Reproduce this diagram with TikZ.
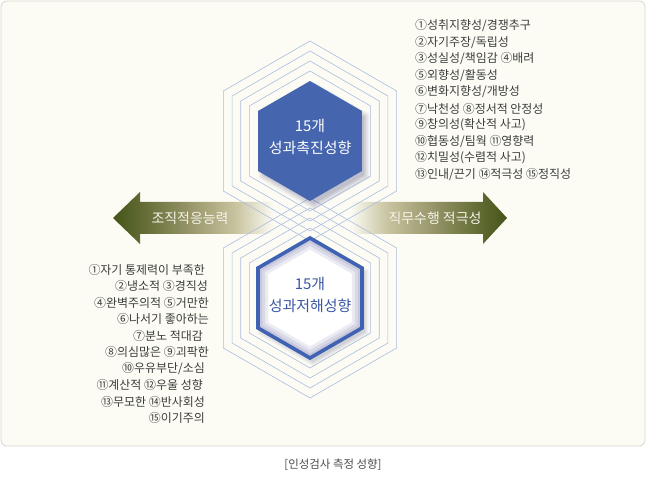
\documentclass[tikz,border=0pt]{standalone}
\usepackage{fontspec}
\setmainfont{Noto Sans CJK KR}
\definecolor{bgc}{RGB}{252,252,245}
\definecolor{framegray}{RGB}{215,215,208}
\definecolor{hexline}{RGB}{172,188,224}
\definecolor{hexblue}{RGB}{69,101,174}
\definecolor{lowblue}{RGB}{64,98,178}
\definecolor{lowtext}{RGB}{58,86,164}
\definecolor{textgray}{RGB}{60,60,60}
\definecolor{ca}{RGB}{68,84,24}
\definecolor{cb}{RGB}{96,106,50}
\definecolor{cc}{RGB}{152,150,106}
\definecolor{cd}{RGB}{202,197,162}
\definecolor{arrtext}{RGB}{245,244,232}
\pgfdeclarehorizontalshading{larr}{100bp}{color(0bp)=(ca); color(25bp)=(ca); color(33.5bp)=(cb); color(49bp)=(cc); color(63.5bp)=(cd); color(75bp)=(bgc); color(100bp)=(bgc)}
\pgfdeclarehorizontalshading{rarr}{100bp}{color(0bp)=(bgc); color(25bp)=(bgc); color(36.5bp)=(cd); color(51bp)=(cc); color(66.5bp)=(cb); color(75bp)=(ca); color(100bp)=(ca)}
\tikzset{
  hexo/.style={draw=hexline, line width=0.6bp},
  listtext/.style={font=\fontsize{12}{14}\selectfont, text=textgray, inner sep=0pt},
  captext/.style={font=\fontsize{11.5}{14}\selectfont, text=black!70, inner sep=0pt},
  arrlabel/.style={font=\fontsize{14}{16}\selectfont, text=arrtext, inner sep=0pt},
  hexlabel/.style={font=\fontsize{15}{22}\selectfont, align=center, inner sep=0pt},
}
\newcommand{\hexat}[1]{(90:#1) -- (30:#1) -- (-30:#1) -- (-90:#1) -- (-150:#1) -- (150:#1) -- cycle}
\begin{document}
\begin{tikzpicture}[x=1bp,y=-1bp]
\useasboundingbox (0,0) rectangle (646,479);
\fill[white] (0,0) rectangle (646,479);
\draw[draw=framegray, fill=bgc, line width=0.8bp, rounded corners=6bp] (1,1) rectangle (645,446);

% arrows
\shade[shading=larr] (113,218) -- (140,192) -- (140,202) -- (274,202) -- (274,234) -- (140,234) -- (140,244) -- cycle;
\shade[shading=rarr] (507,218) -- (483,192) -- (483,202) -- (350,202) -- (350,234) -- (483,234) -- (483,244) -- cycle;

% outline hexagons
\foreach \r in {70,80,90,100}{
  \draw[hexo, shift={(310,141)}] \hexat{\r};
  \draw[hexo, shift={(310,298)}] \hexat{\r};
}

% upper filled hexagon with shadow
\foreach \r/\o in {64/0.05,62/0.06,60/0.07,58/0.08}{
  \fill[black!70!blue, opacity=\o, shift={(314,146)}] \hexat{\r};
}
\fill[hexblue, shift={(310,141)}] \hexat{60};

% lower hexagon with shadow
\foreach \r/\o in {64/0.05,62/0.06,60/0.07}{
  \fill[black!70!blue, opacity=\o, shift={(313,302)}] \hexat{\r};
}
\fill[white, shift={(310,298)}] \hexat{60};
\begin{scope}[shift={(310,298)}]
  \clip \hexat{60};
  \foreach \w in {20,14,8}{
    \draw[black!60!blue, opacity=0.08, line width=\w bp] \hexat{60};
  }
\end{scope}
\draw[lowblue, line width=3.6bp, line join=miter, shift={(310,298)}] \hexat{60};

% hexagon labels
\node[hexlabel, text=white] (up) at (310,137) {15개\\성과촉진성향};
\node[hexlabel, text=lowtext] (low) at (310,295) {15개\\성과저해성향};

% arrow labels
\node[arrlabel] (la) at (190,218) {조직적응능력};
\node[arrlabel] (ra) at (435,218) {직무수행 적극성};

% right list
\node[listtext, anchor=west] (r1) at (415,26) {①성취지향성/경쟁추구};
\node[listtext, anchor=west] (r2) at (415,42.5) {②자기주장/독립성};
\node[listtext, anchor=west] (r3) at (415,59) {③성실성/책임감 ④배려};
\node[listtext, anchor=west] (r4) at (415,75.5) {⑤외향성/활동성};
\node[listtext, anchor=west] (r5) at (415,92) {⑥변화지향성/개방성};
\node[listtext, anchor=west] (r6) at (415,108.5) {⑦낙천성 ⑧정서적 안정성};
\node[listtext, anchor=west] (r7) at (415,125) {⑨창의성(확산적 사고)};
\node[listtext, anchor=west] (r8) at (415,141.5) {⑩협동성/팀웍 ⑪영향력};
\node[listtext, anchor=west] (r9) at (415,158) {⑫치밀성(수렴적 사고)};
\node[listtext, anchor=west] (r10) at (415,174.5) {⑬인내/끈기 ⑭적극성 ⑮정직성};

% left list
\node[listtext, anchor=east] (l1) at (205,270) {①자기 통제력이 부족한};
\node[listtext, anchor=east] (l2) at (208,286.4) {②냉소적 ③경직성};
\node[listtext, anchor=east] (l3) at (209,302.9) {④완벽주의적 ⑤거만한};
\node[listtext, anchor=east] (l4) at (209,319.3) {⑥나서기 좋아하는};
\node[listtext, anchor=east] (l5) at (203,335.8) {⑦분노 적대감};
\node[listtext, anchor=east] (l6) at (209,352.2) {⑧의심많은 ⑨괴팍한};
\node[listtext, anchor=east] (l7) at (205,368.6) {⑩우유부단/소심};
\node[listtext, anchor=east] (l8) at (203,385.1) {⑪계산적 ⑫우울 성향};
\node[listtext, anchor=east] (l9) at (205,401.5) {⑬무모한 ⑭반사회성};
\node[listtext, anchor=east] (l10) at (205,418) {⑮이기주의};

% caption
\node[captext] (cap) at (333,465) {[인성검사 측정 성향]};
\end{tikzpicture}
\end{document}
